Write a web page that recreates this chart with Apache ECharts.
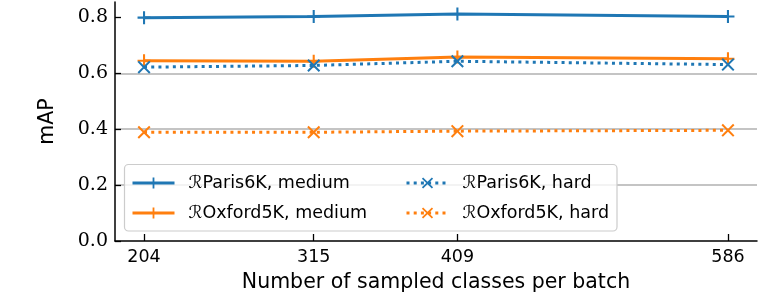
<!DOCTYPE html>
<html>
<head>
<meta charset="utf-8">
<script src="https://cdn.jsdelivr.net/npm/echarts@6/dist/echarts.min.js"></script>
<style>html,body{margin:0;padding:0;background:#fff}#c{width:764px;height:306px}</style>
</head>
<body>
<div id="c"></div>
<script>
const classes = [204, 315, 409, 586];
const xTicks = [204, 315, 409, 586];
const yTicks = [0.0, 0.2, 0.4, 0.6, 0.8];
const parisMedium = [0.799, 0.803, 0.812, 0.803];
const oxfordMedium = [0.645, 0.643, 0.658, 0.652];
const parisHard = [0.622, 0.628, 0.643, 0.631];
const oxfordHard = [0.389, 0.389, 0.393, 0.396];
const seriesNames = ['ℛParis6K, medium', 'ℛOxford5K, medium', 'ℛParis6K, hard', 'ℛOxford5K, hard'];

const BLUE = '#1f77b4', ORANGE = '#ff7f0e';
const PLUS = 'path://M-1.6,-10 H1.6 V-1.6 H10 V1.6 H1.6 V10 H-1.6 V1.6 H-10 V-1.6 H-1.6 Z';
const CROSS = 'path://M-10,-7.8 L-7.8,-10 L0,-2.2 L7.8,-10 L10,-7.8 L2.2,0 L10,7.8 L7.8,10 L0,2.2 L-7.8,10 L-10,7.8 L-2.2,0 Z';
const SANS = 'DejaVu Sans';

function mk(name, vals, color, symbol, dotted) {
  return {
    name: name, type: 'line',
    data: classes.map((c, i) => [c, vals[i]]),
    symbol: symbol, symbolSize: 13, symbolKeepAspect: true,
    itemStyle: { color: color },
    lineStyle: { color: color, width: 3, type: dotted ? [3, 4.2] : 'solid', cap: 'butt' },
    emphasis: { disabled: true },
    animation: false
  };
}

const legendCommon = {
  orient: 'vertical', top: 174, padding: 0,
  itemWidth: 42, itemHeight: 14, itemGap: 12,
  lineStyle: { width: 3 },
  textStyle: { fontFamily: SANS, fontSize: 17.5, color: '#000', lineHeight: 16, padding: [0, 0, 0, 9] },
  selectedMode: false, z: 10
};

const chart = echarts.init(document.getElementById('c'), null, { renderer: 'canvas' });
chart.setOption({
  animation: false,
  grid: { left: 115, right: 7, top: 2, bottom: 65, containLabel: false },
  xAxis: {
    type: 'value', min: 185, max: 605,
    name: 'Number of sampled classes per batch', nameLocation: 'middle', nameGap: 31,
    nameTextStyle: { fontFamily: SANS, fontSize: 20.5, color: '#000' },
    axisLine: { show: true, onZero: false, lineStyle: { color: '#000', width: 1.5 } },
    axisTick: { show: true, inside: true, length: 7, customValues: xTicks, lineStyle: { color: '#000', width: 1.3 } },
    axisLabel: { customValues: xTicks, fontFamily: SANS, fontSize: 17.5, color: '#000', margin: 7 },
    splitLine: { show: false }
  },
  yAxis: {
    type: 'value', min: 0, max: 0.855, interval: 0.2,
    name: 'mAP', nameLocation: 'middle', nameGap: 57,
    nameTextStyle: { fontFamily: SANS, fontSize: 20.5, color: '#000' },
    axisLine: { show: true, lineStyle: { color: '#000', width: 1.5 } },
    axisTick: { show: true, inside: true, length: 6, customValues: yTicks, lineStyle: { color: '#000', width: 1.3 } },
    axisLabel: { customValues: yTicks, fontFamily: 'DejaVu Serif', fontSize: 19, color: '#000', margin: 7,
      formatter: v => v.toFixed(1) },
    splitLine: { show: true, showMaxLine: false, showMinLine: false, lineStyle: { color: '#b0b0b0', width: 1.5 } }
  },
  legend: [
    Object.assign({}, legendCommon, { data: [seriesNames[0], seriesNames[1]], left: 131 }),
    Object.assign({}, legendCommon, { data: [seriesNames[2], seriesNames[3]], left: 405 })
  ],
  graphic: [{
    type: 'rect', z: 5, silent: true,
    shape: { x: 124.5, y: 164.5, width: 492.5, height: 66.5, r: 4 },
    style: { fill: 'rgba(255,255,255,0.8)', stroke: '#cccccc', lineWidth: 1.2 }
  }],
  series: [
    mk(seriesNames[0], parisMedium, BLUE, PLUS, false),
    mk(seriesNames[1], oxfordMedium, ORANGE, PLUS, false),
    mk(seriesNames[2], parisHard, BLUE, CROSS, true),
    mk(seriesNames[3], oxfordHard, ORANGE, CROSS, true)
  ]
});
</script>
</body>
</html>
